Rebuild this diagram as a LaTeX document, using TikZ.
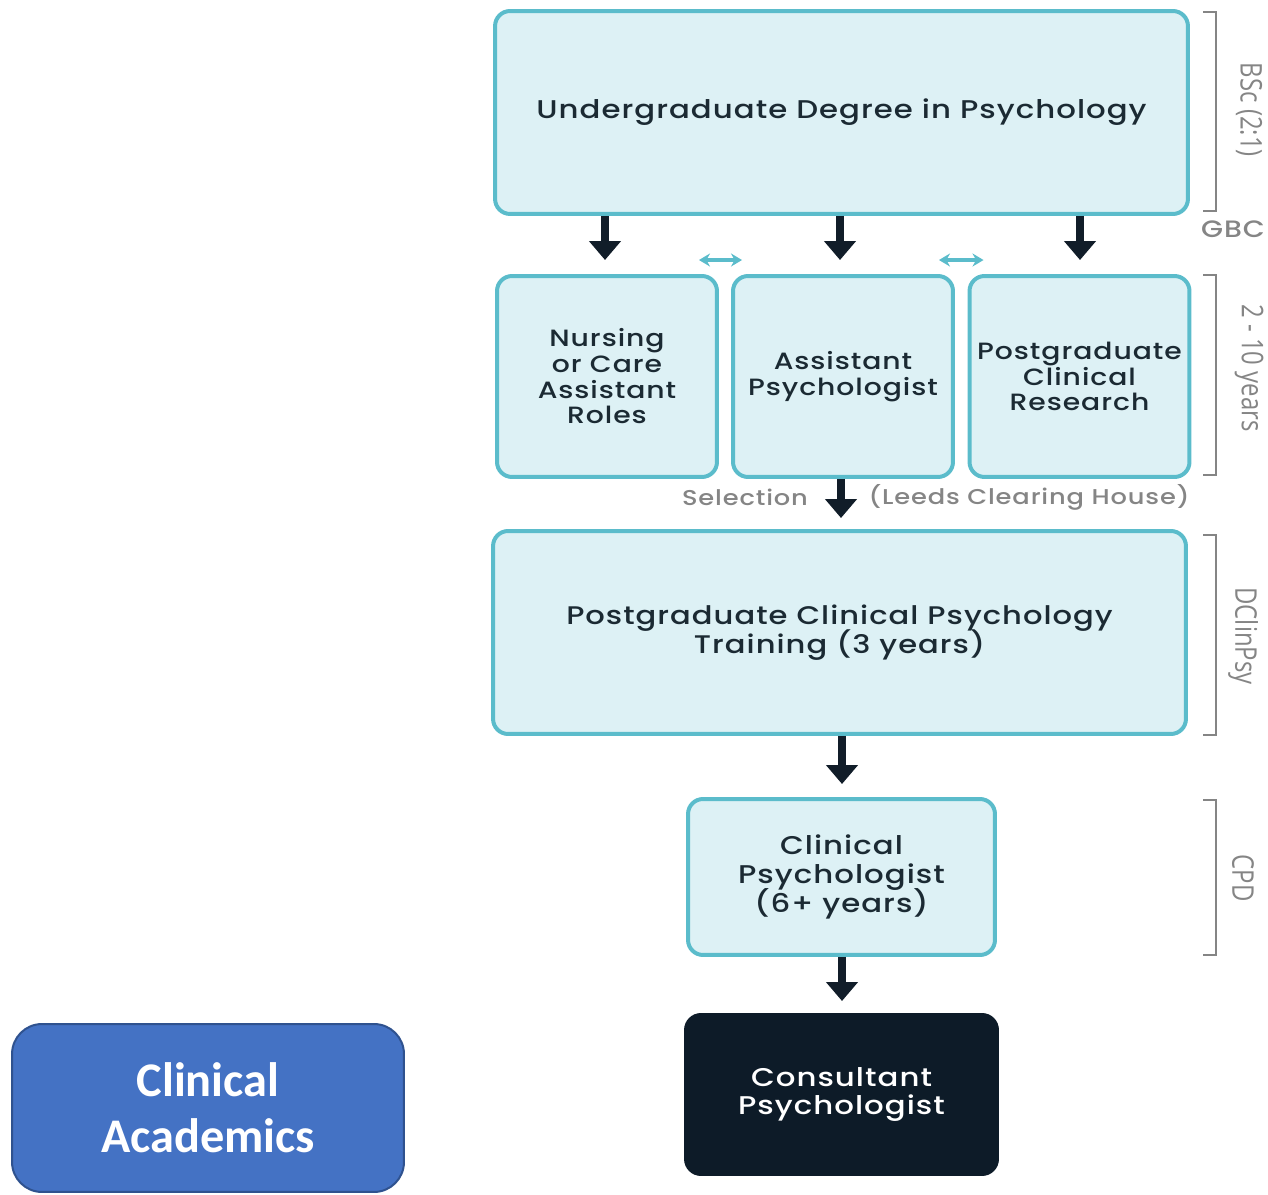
\documentclass[tikz,border=0pt]{standalone}
\usepackage{fontspec}
\setmainfont{Poppins}[UprightFont=* Medium, BoldFont=* SemiBold, LetterSpace=4, FakeStretch=1.2]
\newfontfamily\sidefont{Open Sans}[FakeStretch=0.8]
\newfontfamily\blockfont{Carlito}
\usetikzlibrary{
    arrows.meta,
    positioning
}
\definecolor{boxfill}{HTML}{DDF1F5}
\definecolor{boxline}{HTML}{5BBCCB}
\definecolor{boxtext}{HTML}{1B2A33}
\definecolor{arrowdark}{HTML}{111D29}
\definecolor{consfill}{HTML}{0D1B28}
\definecolor{sidegray}{HTML}{858585}
\definecolor{acadfill}{HTML}{4472C4}
\definecolor{acadline}{HTML}{2F528F}
\lineskiplimit=-20pt

\begin{document}
\begin{tikzpicture}[x=0.02cm, y=-0.02cm,
    stage/.style={draw=boxline, fill=boxfill, line width=0.08cm, rounded corners=0.3cm,
        align=center, text=boxtext, inner sep=0pt},
    flow/.style={draw=arrowdark, line width=0.16cm, -{Triangle[width=0.62cm,length=0.38cm]}},
    swap/.style={draw=boxline, line width=0.07cm,
        {Stealth[width=0.26cm,length=0.22cm]}-{Stealth[width=0.26cm,length=0.22cm]}},
    bracket/.style={draw=sidegray, line width=0.035cm},
    side/.style={text=sidegray, font=\sidefont\fontsize{17}{20}\selectfont, rotate=-90}]
    \useasboundingbox (0,0) rectangle (1268,1195);

    % stages
    \node[stage, minimum width=13.86cm, minimum height=4.06cm,
        font=\fontsize{14.6}{18}\selectfont] (ug) at (841.5,112.5)
        {Undergraduate Degree in Psychology};
    \node[stage, minimum width=4.4cm, minimum height=4.02cm,
        font=\fontsize{13.4}{14.6}\selectfont] (nurse) at (607,376.5)
        {Nursing\\or Care\\Assistant\\Roles};
    \node[stage, minimum width=4.4cm, minimum height=4.02cm,
        font=\fontsize{13.4}{14.6}\selectfont] (asst) at (843,376.5)
        {Assistant\\Psychologist};
    \node[stage, minimum width=4.4cm, minimum height=4.02cm,
        font=\fontsize{13.4}{14.6}\selectfont] (pgres) at (1079.5,376.5)
        {Postgraduate\\Clinical\\Research};
    \node[stage, minimum width=13.86cm, minimum height=4.06cm,
        font=\fontsize{14.5}{16.6}\selectfont] (train) at (839.5,632.5)
        {Postgraduate Clinical Psychology\\Training (3 years)};
    \node[stage, minimum width=6.14cm, minimum height=3.12cm,
        font=\fontsize{14.6}{16.6}\selectfont] (clin) at (841.5,877)
        {Clinical\\Psychologist\\(6+ years)};
    \node[stage, draw=consfill, fill=consfill, text=white, minimum width=6.22cm,
        minimum height=3.18cm, font=\fontsize{14.6}{16}\selectfont] (cons) at (841.5,1094.5)
        {Consultant\\Psychologist};
    \node[draw=acadline, fill=acadfill, line width=0.04cm, rounded corners=0.6cm,
        minimum width=7.84cm, minimum height=3.36cm, align=center, text=white,
        font=\blockfont\bfseries\fontsize{27.5}{32}\selectfont] (acad) at (208,1108)
        {Clinical\\Academics};

    % arrows
    \draw[flow] (ug.south -| 605,0) -- ([yshift=0.28cm]nurse.north -| 605,0);
    \draw[flow] (ug.south -| 840,0) -- ([yshift=0.28cm]asst.north -| 840,0);
    \draw[flow] (ug.south -| 1080,0) -- ([yshift=0.28cm]pgres.north -| 1080,0);
    \draw[swap] ([shift={(-0.4cm,0.28cm)}]nurse.north east) -- ([shift={(0.22cm,0.28cm)}]asst.north west);
    \draw[swap] ([shift={(-0.32cm,0.28cm)}]asst.north east) -- ([shift={(0.32cm,0.28cm)}]pgres.north west);
    \draw[flow] (asst.south -| 841,0) -- ([yshift=0.22cm]train.north -| 841,0);
    \draw[flow] (train.south -| 842,0) -- ([yshift=0.26cm]clin.north -| 842,0);
    \draw[flow] (clin.south -| 842,0) -- ([yshift=0.24cm]cons.north -| 842,0);

    \node[text=sidegray, font=\fontsize{12.2}{14}\selectfont] (sel) at (745,497) {Selection};
    \node[text=sidegray, font=\fontsize{12.2}{14}\selectfont] (leeds) at (1029,497) {(Leeds Clearing House)};

    % brackets
    \draw[bracket] (1203,12) -- (1216,12) -- (1216,211) -- (1203,211);
    \draw[bracket] (1203,275) -- (1216,275) -- (1216,475) -- (1203,475);
    \draw[bracket] (1203,535) -- (1216,535) -- (1216,735) -- (1203,735);
    \draw[bracket] (1203,800) -- (1216,800) -- (1216,955) -- (1203,955);
    \node[side] (bsc) at (1249,110) {BSc (2:1)};
    \node[text=sidegray, font=\fontsize{13.5}{16}\selectfont] (gbc) at (1233,229) {GBC};
    \node[side] (yrs) at (1249,368) {2 - 10 years};
    \node[side] (dclin) at (1243,636) {DClinPsy};
    \node[side] (cpd) at (1243,878) {CPD};
\end{tikzpicture}
\end{document}
